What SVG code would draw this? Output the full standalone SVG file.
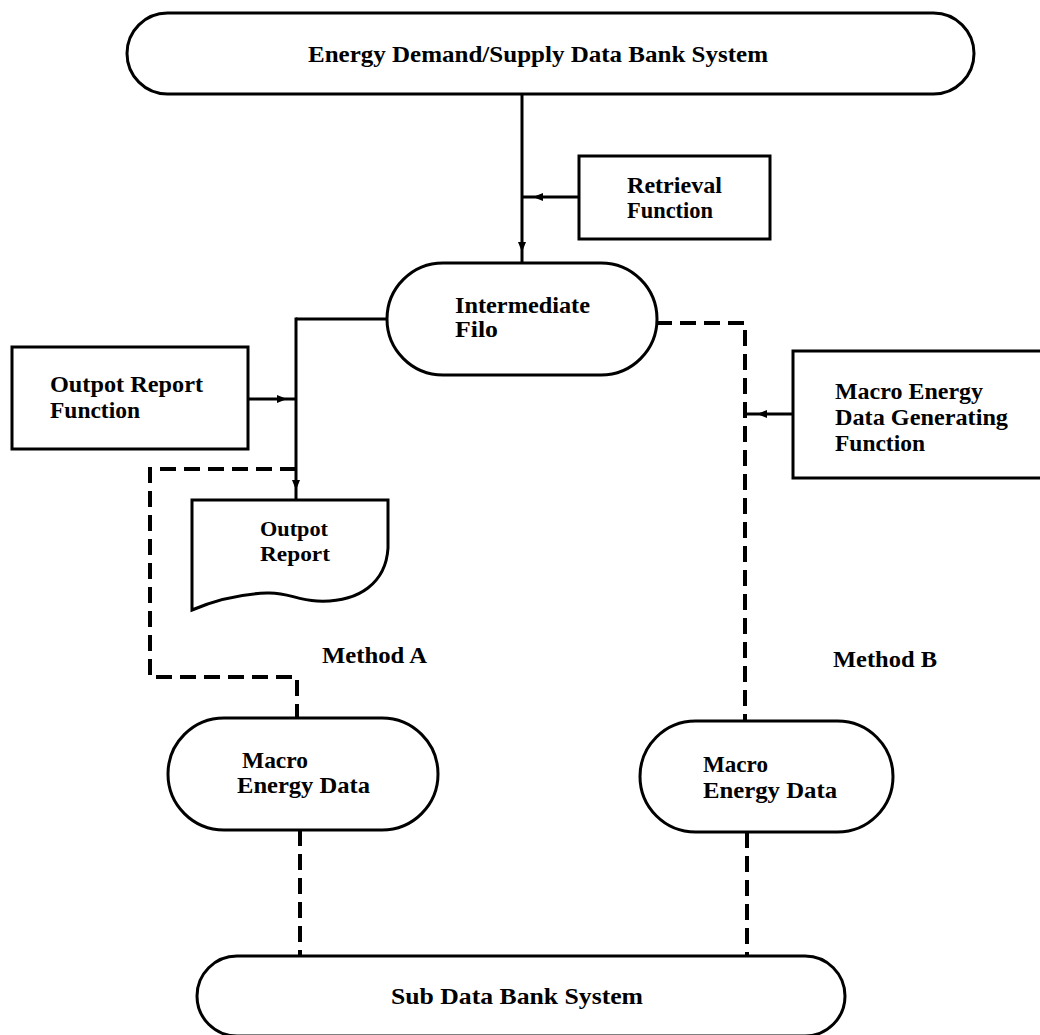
<svg xmlns="http://www.w3.org/2000/svg" width="1040" height="1035" viewBox="0 0 1040 1035">
<style>
.shape{fill:#fff;stroke:#000;stroke-width:3}
.t{font-family:"Liberation Serif","Times New Roman",serif;font-weight:bold;font-size:24px;fill:#000}
.s{font-size:22px}
.solid{fill:none;stroke:#000;stroke-width:3}
.dash{fill:none;stroke:#000;stroke-width:4;stroke-dasharray:16 8}
</style>
<defs>
<marker id="arr" markerUnits="userSpaceOnUse" markerWidth="12" markerHeight="10" refX="5" refY="0" viewBox="0 -5 12 10" orient="auto">
<path d="M0,-4 L10,0 L0,4 Z" fill="#000"/>
</marker>
</defs>
<rect width="1040" height="1035" fill="#fff"/>
<g id="connectors">
<path class="solid" d="M522,94 V247 V263" marker-mid="url(#arr)"/>
<path class="solid" d="M579,197 H538 H522" marker-mid="url(#arr)"/>
<path class="solid" d="M387,319 H296"/>
<path class="solid" d="M296,317.5 V485 V500" marker-mid="url(#arr)"/>
<path class="solid" d="M248,399 H282 H296" marker-mid="url(#arr)"/>
<path class="dash" d="M296,469 H150 V677 H297 V718"/>
<path class="dash" d="M656,323 H745 V721"/>
<path class="solid" d="M793,414 H762 H745" marker-mid="url(#arr)"/>
<path class="dash" d="M300,830 V956"/>
<path class="dash" d="M747,832 V956"/>
</g>
<g id="top-system">
<rect class="shape" x="127" y="13" width="847" height="81" rx="40.5"/>
<text class="t" x="308" y="62" textLength="460" lengthAdjust="spacingAndGlyphs">Energy Demand/Supply Data Bank System</text>
</g>
<g id="retrieval-function">
<rect class="shape" x="579" y="156" width="191" height="83"/>
<text class="t" x="627" y="193" textLength="95" lengthAdjust="spacingAndGlyphs">Retrieval</text>
<text class="t" x="627" y="218" textLength="86" lengthAdjust="spacingAndGlyphs">Function</text>
</g>
<g id="intermediate-file">
<rect class="shape" x="387" y="263" width="270" height="112" rx="56"/>
<text class="t" x="455" y="313" textLength="135" lengthAdjust="spacingAndGlyphs">Intermediate</text>
<text class="t" x="455" y="337" textLength="43" lengthAdjust="spacingAndGlyphs">Filo</text>
</g>
<g id="output-report-function">
<rect class="shape" x="12" y="347" width="236" height="102"/>
<text class="t" x="50" y="392" textLength="153" lengthAdjust="spacingAndGlyphs">Outpot Report</text>
<text class="t" x="50" y="418" textLength="90" lengthAdjust="spacingAndGlyphs">Function</text>
</g>
<g id="output-report">
<path class="shape" d="M192,500 H388 V548 C386,582 360,603 317,601 C295,600 288,592 267,593 C240,594 215,600 192,610 Z"/>
<text class="t s" x="260" y="536" textLength="68" lengthAdjust="spacingAndGlyphs">Outpot</text>
<text class="t s" x="260" y="561" textLength="70" lengthAdjust="spacingAndGlyphs">Report</text>
</g>
<g id="macro-generating-function">
<rect class="shape" x="793" y="351" width="262" height="127"/>
<text class="t" x="835" y="399" textLength="148" lengthAdjust="spacingAndGlyphs">Macro Energy</text>
<text class="t" x="835" y="425" textLength="173" lengthAdjust="spacingAndGlyphs">Data Generating</text>
<text class="t" x="835" y="451" textLength="90" lengthAdjust="spacingAndGlyphs">Function</text>
</g>
<g id="method-a-label">
<text class="t" x="322" y="663" textLength="105" lengthAdjust="spacingAndGlyphs">Method A</text>
</g>
<g id="method-b-label">
<text class="t" x="833" y="667" textLength="104" lengthAdjust="spacingAndGlyphs">Method B</text>
</g>
<g id="macro-data-a">
<rect class="shape" x="168" y="718" width="270" height="112" rx="56"/>
<text class="t" x="242" y="768" textLength="66" lengthAdjust="spacingAndGlyphs">Macro</text>
<text class="t" x="237" y="793" textLength="133" lengthAdjust="spacingAndGlyphs">Energy Data</text>
</g>
<g id="macro-data-b">
<rect class="shape" x="640" y="721" width="253" height="111" rx="55.5"/>
<text class="t" x="703" y="772" textLength="65" lengthAdjust="spacingAndGlyphs">Macro</text>
<text class="t" x="703" y="798" textLength="134" lengthAdjust="spacingAndGlyphs">Energy Data</text>
</g>
<g id="sub-system">
<rect class="shape" x="197" y="956" width="648" height="80" rx="40"/>
<text class="t" x="391" y="1004" textLength="252" lengthAdjust="spacingAndGlyphs">Sub Data Bank System</text>
</g>
</svg>
